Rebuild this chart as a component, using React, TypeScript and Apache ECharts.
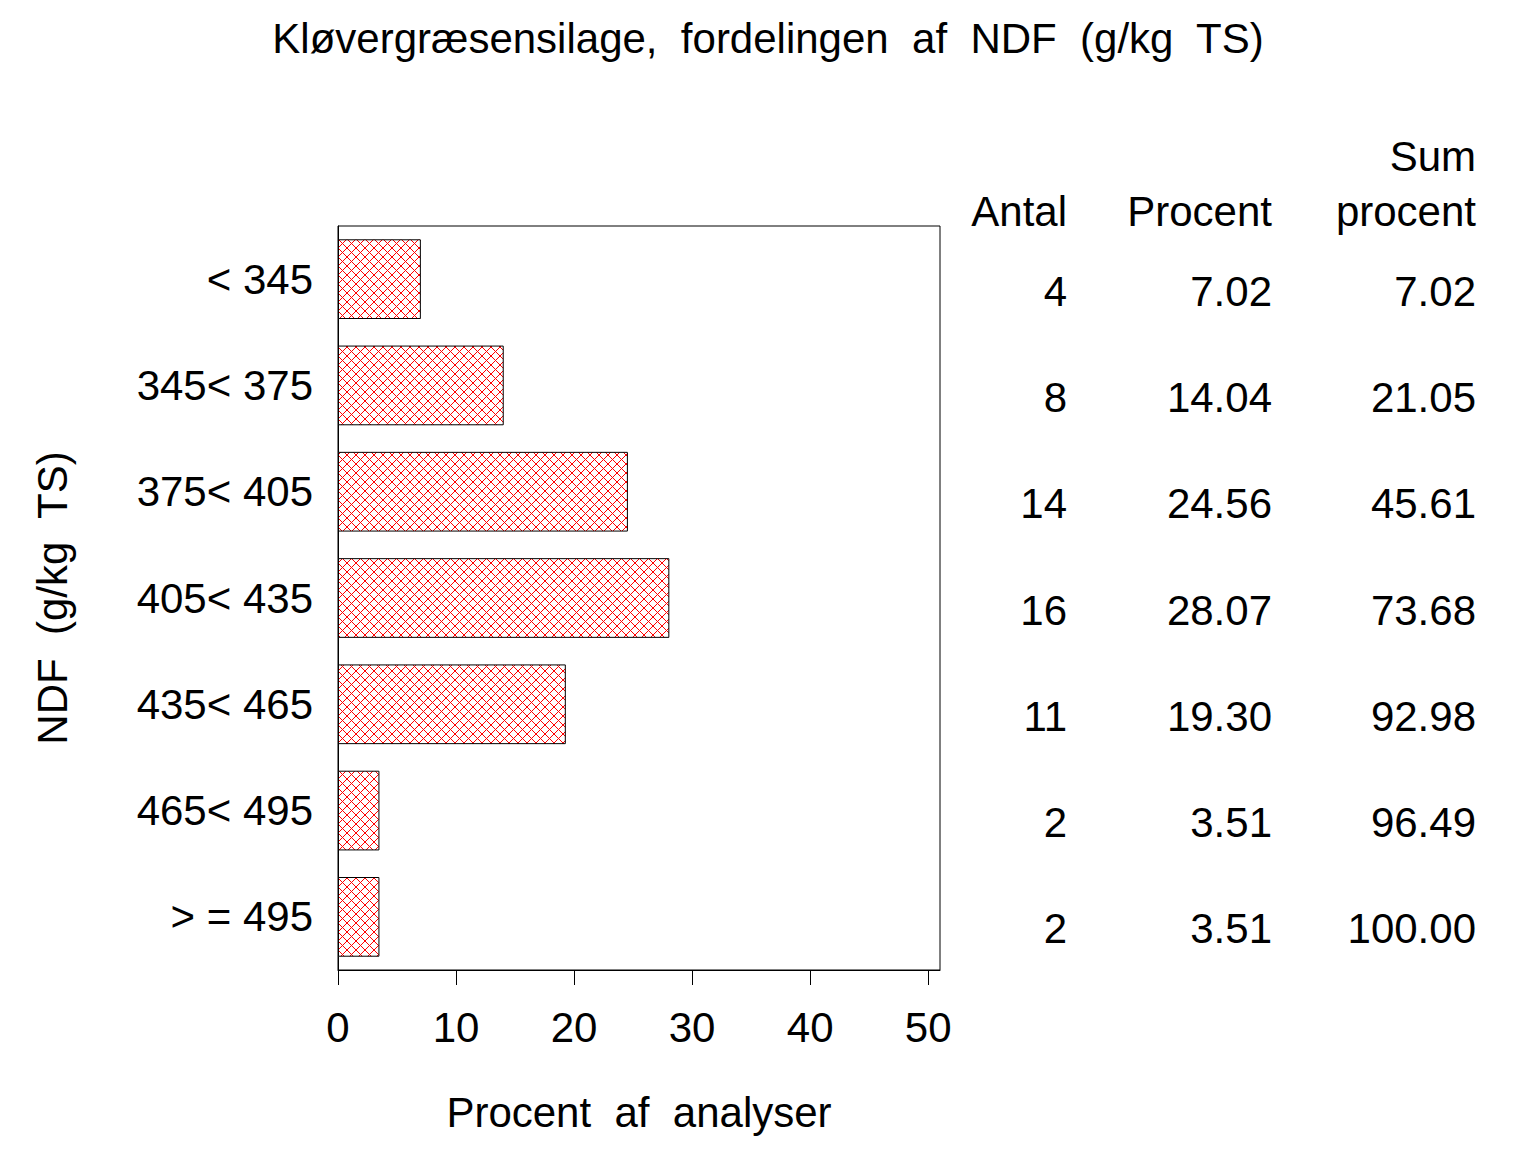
import React, { useEffect, useRef } from "react";
import * as echarts from "echarts";

const categories = ["< 345", "345< 375", "375< 405", "405< 435", "435< 465", "465< 495", "> = 495"];
const antal = [4, 8, 14, 16, 11, 2, 2];
const procent = [7.02, 14.04, 24.56, 28.07, 19.3, 3.51, 3.51];
const sumProcent = [7.02, 21.05, 45.61, 73.68, 92.98, 96.49, 100.0];
const xTicks = [0, 10, 20, 30, 40, 50];

const FONT = "Liberation Sans, Arial, sans-serif";
const FS = 42;

function makeHatch(): string {
  const c = document.createElement("canvas");
  const n = 9;
  c.width = n;
  c.height = n;
  const ctx = c.getContext("2d")!;
  ctx.fillStyle = "#ffffff";
  ctx.fillRect(0, 0, n, n);
  ctx.fillStyle = "#ff0000";
  for (let i = 0; i < n; i++) {
    ctx.fillRect(i, i, 1, 1);
    ctx.fillRect((n - i) % n, i, 1, 1);
  }
  return c.toDataURL();
}

export default function App() {
  const ref = useRef<HTMLDivElement>(null);
  useEffect(() => {
    if (!ref.current) return;
    document.body.style.margin = "0";
    const chart = echarts.init(ref.current, null, { renderer: "svg" });
    const hatch = makeHatch();
    const rightAxis = (vals: string[], margin: number) => ({
      type: "category" as const,
      data: vals,
      inverse: true,
      position: "right" as const,
      gridIndex: 0,
      axisLine: { show: false },
      axisTick: { show: false },
      splitLine: { show: false },
      axisLabel: {
        align: "right" as const,
        verticalAlign: "top" as const,
        lineHeight: 24,
        margin,
        fontSize: FS,
        fontFamily: FONT,
        color: "#000",
      },
    });
    chart.setOption({
      animation: false,
      backgroundColor: "#fff",
      title: {
        text: "Kløvergræsensilage,  fordelingen  af  NDF  (g/kg  TS)",
        left: "center",
        top: 12,
        textStyle: { fontSize: 42, fontWeight: "normal", fontFamily: FONT, color: "#000" },
      },
      grid: {
        left: 338,
        top: 226,
        width: 602,
        height: 744,
        show: true,
        borderColor: "#000",
        borderWidth: 1,
        containLabel: false,
        outerBoundsMode: "none",
      },
      xAxis: {
        type: "value",
        min: 0,
        max: 51,
        name: "Procent  af  analyser",
        nameLocation: "middle",
        nameGap: 121,
        nameTextStyle: { fontSize: FS, fontFamily: FONT, color: "#000" },
        axisLine: { show: true, lineStyle: { color: "#000", width: 1 } },
        axisTick: {
          show: true,
          length: 15,
          inside: false,
          customValues: xTicks,
          lineStyle: { color: "#000", width: 1 },
        },
        axisLabel: {
          customValues: xTicks,
          margin: 36,
          fontSize: FS,
          fontFamily: FONT,
          color: "#000",
        },
        splitLine: { show: false },
      },
      yAxis: [
        {
          type: "category",
          data: categories,
          inverse: true,
          name: "NDF  (g/kg  TS)",
          nameLocation: "middle",
          nameGap: 265,
          nameRotate: 90,
          nameTextStyle: { fontSize: FS, fontFamily: FONT, color: "#000" },
          axisLine: { show: true, lineStyle: { color: "#000" } },
          axisTick: { show: false },
          axisLabel: { margin: 25, fontSize: FS, fontFamily: FONT, color: "#000" },
        },
        rightAxis(antal.map((v) => String(v)), 127),
        rightAxis(procent.map((v) => v.toFixed(2)), 332),
        rightAxis(sumProcent.map((v) => v.toFixed(2)), 536),
      ],
      graphic: [
        { type: "text", right: 1536 - 1067, top: 190, style: { text: "Antal", fontSize: FS, fontFamily: FONT, fill: "#000" } },
        { type: "text", right: 1536 - 1272, top: 190, style: { text: "Procent", fontSize: FS, fontFamily: FONT, fill: "#000" } },
        { type: "text", right: 1536 - 1476, top: 135, style: { text: "Sum", fontSize: FS, fontFamily: FONT, fill: "#000" } },
        { type: "text", right: 1536 - 1476, top: 190, style: { text: "procent", fontSize: FS, fontFamily: FONT, fill: "#000" } },
      ],
      series: [
        {
          type: "bar",
          data: procent,
          barCategoryGap: "25%",
          itemStyle: {
            color: { image: hatch, repeat: "repeat" },
            borderColor: "#000",
            borderWidth: 1,
          },
        },
      ],
    });
    return () => chart.dispose();
  }, []);
  return <div ref={ref} style={{ position: "absolute", left: 0, top: 0, width: 1536, height: 1152 }} />;
}
